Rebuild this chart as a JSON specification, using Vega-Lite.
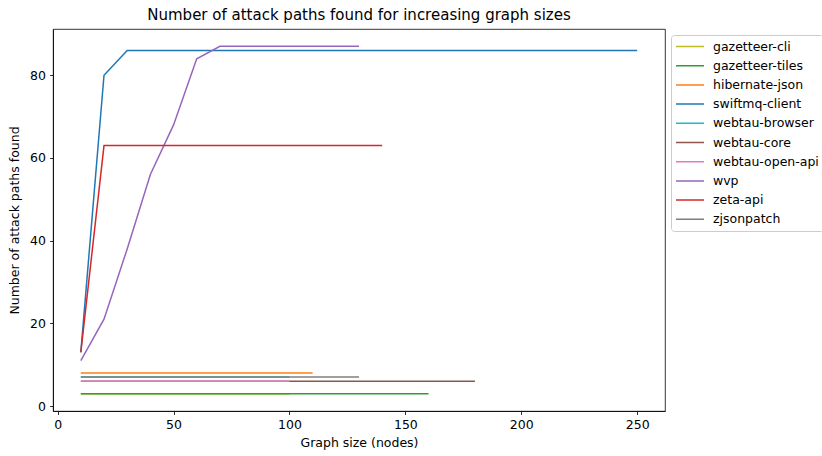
{
  "$schema": "https://vega.github.io/schema/vega-lite/v6.json",
  "width": 612,
  "height": 382,
  "autosize": {"type": "none"},
  "padding": {"left": 53, "top": 29, "right": 157, "bottom": 45},
  "background": "white",
  "config": {
    "font": "DejaVu Sans",
    "view": {"stroke": "black", "strokeWidth": 0.8},
    "axis": {"grid": false, "domainColor": "black", "tickColor": "black", "labelColor": "black", "titleColor": "black", "labelFontSize": 12.5, "titleFontSize": 12.5, "titleFontWeight": "normal", "tickSize": 3.5, "labelPadding": 4, "domainWidth": 0.8, "tickWidth": 0.8}
  },
  "title": {"text": "Number of attack paths found for increasing graph sizes", "fontSize": 15, "fontWeight": "normal", "anchor": "middle", "offset": 6, "color": "black"},
  "data": {"values": [
    {"p":"gazetteer-cli","n":10,"a":3},{"p":"gazetteer-cli","n":20,"a":3},{"p":"gazetteer-cli","n":30,"a":3},{"p":"gazetteer-cli","n":40,"a":3},{"p":"gazetteer-cli","n":50,"a":3},{"p":"gazetteer-cli","n":60,"a":3},{"p":"gazetteer-cli","n":70,"a":3},{"p":"gazetteer-cli","n":80,"a":3},{"p":"gazetteer-cli","n":90,"a":3},{"p":"gazetteer-cli","n":100,"a":3},
    {"p":"gazetteer-tiles","n":10,"a":3},{"p":"gazetteer-tiles","n":20,"a":3},{"p":"gazetteer-tiles","n":30,"a":3},{"p":"gazetteer-tiles","n":40,"a":3},{"p":"gazetteer-tiles","n":50,"a":3},{"p":"gazetteer-tiles","n":60,"a":3},{"p":"gazetteer-tiles","n":70,"a":3},{"p":"gazetteer-tiles","n":80,"a":3},{"p":"gazetteer-tiles","n":90,"a":3},{"p":"gazetteer-tiles","n":100,"a":3},{"p":"gazetteer-tiles","n":110,"a":3},{"p":"gazetteer-tiles","n":120,"a":3},{"p":"gazetteer-tiles","n":130,"a":3},{"p":"gazetteer-tiles","n":140,"a":3},{"p":"gazetteer-tiles","n":150,"a":3},{"p":"gazetteer-tiles","n":160,"a":3},
    {"p":"hibernate-json","n":10,"a":8},{"p":"hibernate-json","n":20,"a":8},{"p":"hibernate-json","n":30,"a":8},{"p":"hibernate-json","n":40,"a":8},{"p":"hibernate-json","n":50,"a":8},{"p":"hibernate-json","n":60,"a":8},{"p":"hibernate-json","n":70,"a":8},{"p":"hibernate-json","n":80,"a":8},{"p":"hibernate-json","n":90,"a":8},{"p":"hibernate-json","n":100,"a":8},{"p":"hibernate-json","n":110,"a":8},
    {"p":"swiftmq-client","n":10,"a":13},{"p":"swiftmq-client","n":20,"a":80},{"p":"swiftmq-client","n":30,"a":86},{"p":"swiftmq-client","n":40,"a":86},{"p":"swiftmq-client","n":50,"a":86},{"p":"swiftmq-client","n":60,"a":86},{"p":"swiftmq-client","n":70,"a":86},{"p":"swiftmq-client","n":80,"a":86},{"p":"swiftmq-client","n":90,"a":86},{"p":"swiftmq-client","n":100,"a":86},{"p":"swiftmq-client","n":110,"a":86},{"p":"swiftmq-client","n":120,"a":86},{"p":"swiftmq-client","n":130,"a":86},{"p":"swiftmq-client","n":140,"a":86},{"p":"swiftmq-client","n":150,"a":86},{"p":"swiftmq-client","n":160,"a":86},{"p":"swiftmq-client","n":170,"a":86},{"p":"swiftmq-client","n":180,"a":86},{"p":"swiftmq-client","n":190,"a":86},{"p":"swiftmq-client","n":200,"a":86},{"p":"swiftmq-client","n":210,"a":86},{"p":"swiftmq-client","n":220,"a":86},{"p":"swiftmq-client","n":230,"a":86},{"p":"swiftmq-client","n":240,"a":86},{"p":"swiftmq-client","n":250,"a":86},
    {"p":"webtau-browser","n":10,"a":7},{"p":"webtau-browser","n":20,"a":7},{"p":"webtau-browser","n":30,"a":7},{"p":"webtau-browser","n":40,"a":7},{"p":"webtau-browser","n":50,"a":7},{"p":"webtau-browser","n":60,"a":7},{"p":"webtau-browser","n":70,"a":7},{"p":"webtau-browser","n":80,"a":7},{"p":"webtau-browser","n":90,"a":7},{"p":"webtau-browser","n":100,"a":7},
    {"p":"webtau-core","n":10,"a":6},{"p":"webtau-core","n":20,"a":6},{"p":"webtau-core","n":30,"a":6},{"p":"webtau-core","n":40,"a":6},{"p":"webtau-core","n":50,"a":6},{"p":"webtau-core","n":60,"a":6},{"p":"webtau-core","n":70,"a":6},{"p":"webtau-core","n":80,"a":6},{"p":"webtau-core","n":90,"a":6},{"p":"webtau-core","n":100,"a":6},{"p":"webtau-core","n":110,"a":6},{"p":"webtau-core","n":120,"a":6},{"p":"webtau-core","n":130,"a":6},{"p":"webtau-core","n":140,"a":6},{"p":"webtau-core","n":150,"a":6},{"p":"webtau-core","n":160,"a":6},{"p":"webtau-core","n":170,"a":6},{"p":"webtau-core","n":180,"a":6},
    {"p":"webtau-open-api","n":10,"a":6},{"p":"webtau-open-api","n":20,"a":6},{"p":"webtau-open-api","n":30,"a":6},{"p":"webtau-open-api","n":40,"a":6},{"p":"webtau-open-api","n":50,"a":6},{"p":"webtau-open-api","n":60,"a":6},{"p":"webtau-open-api","n":70,"a":6},{"p":"webtau-open-api","n":80,"a":6},{"p":"webtau-open-api","n":90,"a":6},{"p":"webtau-open-api","n":100,"a":6},
    {"p":"wvp","n":10,"a":11},{"p":"wvp","n":20,"a":21},{"p":"wvp","n":30,"a":38},{"p":"wvp","n":40,"a":56},{"p":"wvp","n":50,"a":68},{"p":"wvp","n":60,"a":84},{"p":"wvp","n":70,"a":87},{"p":"wvp","n":80,"a":87},{"p":"wvp","n":90,"a":87},{"p":"wvp","n":100,"a":87},{"p":"wvp","n":110,"a":87},{"p":"wvp","n":120,"a":87},{"p":"wvp","n":130,"a":87},
    {"p":"zeta-api","n":10,"a":13},{"p":"zeta-api","n":20,"a":63},{"p":"zeta-api","n":30,"a":63},{"p":"zeta-api","n":40,"a":63},{"p":"zeta-api","n":50,"a":63},{"p":"zeta-api","n":60,"a":63},{"p":"zeta-api","n":70,"a":63},{"p":"zeta-api","n":80,"a":63},{"p":"zeta-api","n":90,"a":63},{"p":"zeta-api","n":100,"a":63},{"p":"zeta-api","n":110,"a":63},{"p":"zeta-api","n":120,"a":63},{"p":"zeta-api","n":130,"a":63},{"p":"zeta-api","n":140,"a":63},
    {"p":"zjsonpatch","n":10,"a":7},{"p":"zjsonpatch","n":20,"a":7},{"p":"zjsonpatch","n":30,"a":7},{"p":"zjsonpatch","n":40,"a":7},{"p":"zjsonpatch","n":50,"a":7},{"p":"zjsonpatch","n":60,"a":7},{"p":"zjsonpatch","n":70,"a":7},{"p":"zjsonpatch","n":80,"a":7},{"p":"zjsonpatch","n":90,"a":7},{"p":"zjsonpatch","n":100,"a":7},{"p":"zjsonpatch","n":110,"a":7},{"p":"zjsonpatch","n":120,"a":7},{"p":"zjsonpatch","n":130,"a":7}
  ]},
  "mark": {"type": "line", "strokeWidth": 1.5, "clip": true},
  "encoding": {
    "x": {"field": "n", "type": "quantitative", "title": "Graph size (nodes)", "scale": {"domain": [-2, 262], "nice": false, "zero": false}, "axis": {"values": [0, 50, 100, 150, 200, 250], "titlePadding": 5}},
    "y": {"field": "a", "type": "quantitative", "title": "Number of attack paths found", "scale": {"domain": [-1.2, 91.2], "nice": false, "zero": false}, "axis": {"values": [0, 20, 40, 60, 80], "titlePadding": 8}},
    "color": {
      "field": "p", "type": "nominal",
      "scale": {
        "domain": ["gazetteer-cli", "gazetteer-tiles", "hibernate-json", "swiftmq-client", "webtau-browser", "webtau-core", "webtau-open-api", "wvp", "zeta-api", "zjsonpatch"],
        "range": ["#bcbd22", "#2ca02c", "#ff7f0e", "#1f77b4", "#17becf", "#8c564b", "#e377c2", "#9467bd", "#d62728", "#7f7f7f"]
      },
      "legend": {"title": null, "orient": "none", "legendX": 618, "legendY": 6, "strokeColor": "#cccccc", "fillColor": "white", "cornerRadius": 3, "padding": 4, "symbolType": "stroke", "symbolSize": 784, "symbolStrokeWidth": 1.5, "clipHeight": 15, "rowPadding": 4.2, "labelFontSize": 12.5, "labelColor": "black", "labelLimit": 300, "labelOffset": 8}
    },
    "order": {"field": "n", "type": "quantitative"}
  }
}
